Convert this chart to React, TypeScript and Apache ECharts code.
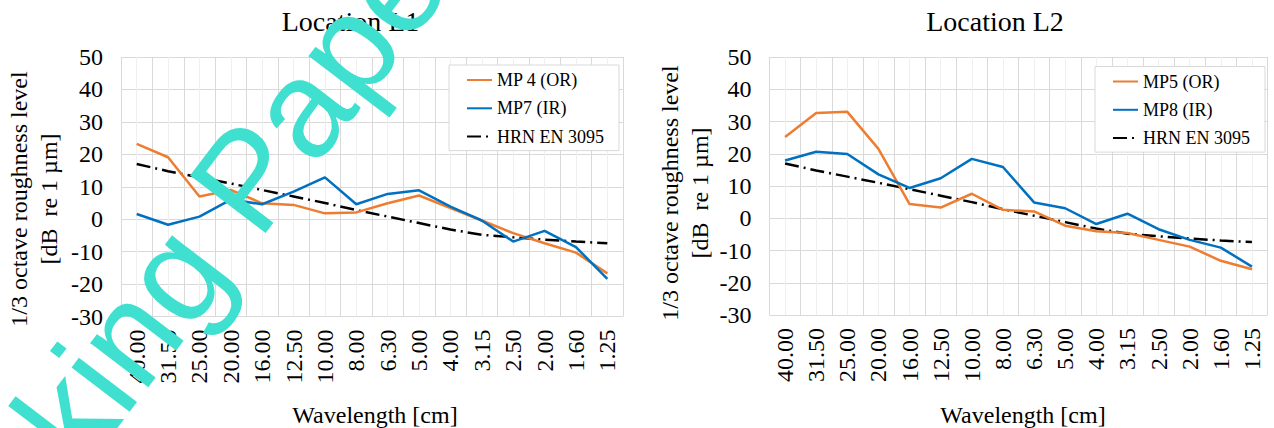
import React, { useEffect, useRef } from "react";
import * as echarts from "echarts";

const wavelengths = ["40.00", "31.50", "25.00", "20.00", "16.00", "12.50", "10.00", "8.00", "6.30", "5.00", "4.00", "3.15", "2.50", "2.00", "1.60", "1.25"];

// Location L1
const mp4OR = [23.2, 19.1, 7.0, 9.0, 4.9, 4.4, 1.8, 2.1, 4.9, 7.3, 3.4, -0.4, -4.3, -7.4, -10.3, -16.7];
const mp7IR = [1.6, -1.7, 0.8, 6.0, 4.6, 8.5, 12.9, 4.6, 7.8, 8.9, 3.9, -0.4, -6.9, -3.6, -8.6, -18.4];

// Location L2
const mp5OR = [25.2, 32.6, 33.0, 21.5, 4.4, 3.3, 7.6, 2.6, 2.1, -2.3, -4.0, -4.6, -6.7, -8.8, -13.2, -15.8];
const mp8IR = [17.9, 20.6, 19.9, 13.6, 9.4, 12.4, 18.4, 15.9, 4.9, 3.1, -1.8, 1.4, -3.4, -6.7, -9.1, -15.0];

// Limit spectrum
const hrnEN3095 = [17.0, 14.8, 12.9, 11.0, 9.0, 7.0, 5.0, 2.8, 0.8, -1.2, -3.2, -4.8, -5.6, -6.3, -6.9, -7.4];

const yMin = -30;
const yMax = 50;
const yStep = 10;

const SERIF = "'Liberation Serif', 'Times New Roman', serif";
const SANS = "'Liberation Sans', Arial, sans-serif";
const ORANGE = "#ED7D31";
const BLUE = "#0070C0";
const GRID = "#d9d9d9";
const MINOR = "#efefef";

function xAxesFor(gridIndex: number) {
  return [
    {
      type: "category",
      gridIndex,
      data: wavelengths,
      boundaryGap: true,
      axisLine: { show: false },
      axisTick: { show: false },
      splitLine: { show: false },
      axisLabel: {
        rotate: 90,
        interval: 0,
        fontSize: 24,
        fontFamily: SERIF,
        color: "#000",
        margin: 13,
      },
    },
    {
      type: "value",
      gridIndex,
      position: "top",
      min: 0,
      max: wavelengths.length,
      interval: 1,
      axisLabel: { show: false },
      axisLine: { show: false },
      axisTick: { show: false },
      splitLine: { show: true, lineStyle: { color: GRID, width: 1 } },
      minorTick: { show: false, splitNumber: 2 },
      minorSplitLine: { show: true, lineStyle: { color: MINOR, width: 1 } },
    },
  ];
}

function yAxisFor(gridIndex: number) {
  return {
    type: "value",
    gridIndex,
    min: yMin,
    max: yMax,
    interval: yStep,
    axisLine: { show: false },
    axisTick: { show: false },
    splitLine: { show: true, lineStyle: { color: GRID, width: 1 } },
    axisLabel: { fontSize: 24, fontFamily: SERIF, color: "#000", margin: 18 },
  };
}

function lineSeries(name: string, data: number[], color: string, xi: number, yi: number, dashed = false) {
  return {
    type: "line",
    name,
    data,
    xAxisIndex: xi,
    yAxisIndex: yi,
    symbol: "none",
    smooth: false,
    z: dashed ? 3 : 4,
    lineStyle: {
      color,
      width: 2.5,
      type: dashed ? [14, 5, 2, 5] : "solid",
    },
    itemStyle: { color },
  };
}

function legendFor(left: number, top: number, names: string[]) {
  return {
    orient: "vertical",
    left,
    top,
    data: names,
    selectedMode: false,
    itemWidth: 25,
    itemHeight: 14,
    itemGap: 8.3,
    padding: [5, 15, 4, 17],
    backgroundColor: "#fff",
    borderColor: GRID,
    borderWidth: 1,
    itemStyle: { opacity: 0 },
    textStyle: { fontFamily: SERIF, fontSize: 18, color: "#000", lineHeight: 20 },
  };
}

const yName = "1/3 octave roughness level\n[dB  re 1 µm]";

export default function App() {
  const ref = useRef<HTMLDivElement>(null);
  useEffect(() => {
    if (!ref.current) return;
    const chart = echarts.init(ref.current, undefined, { renderer: "svg" });
    const option = {
      animation: false,
      backgroundColor: "#fff",
      grid: [
        { left: 121, top: 57, width: 502, height: 259.5 },
        { left: 769.5, top: 57, width: 498, height: 258 },
      ],
      xAxis: [...xAxesFor(0), ...xAxesFor(1)],
      yAxis: [yAxisFor(0), yAxisFor(1)],
      legend: [
        legendFor(449, 65, ["MP 4 (OR)", "MP7 (IR)", "HRN EN 3095"]),
        legendFor(1095, 66.5, ["MP5 (OR)", "MP8 (IR)", "HRN EN 3095"]),
      ],
      series: [
        lineSeries("MP 4 (OR)", mp4OR, ORANGE, 0, 0),
        lineSeries("MP7 (IR)", mp7IR, BLUE, 0, 0),
        lineSeries("HRN EN 3095", hrnEN3095, "#000", 0, 0, true),
        lineSeries("MP5 (OR)", mp5OR, ORANGE, 2, 1),
        lineSeries("MP8 (IR)", mp8IR, BLUE, 2, 1),
        lineSeries("HRN EN 3095", hrnEN3095, "#000", 2, 1, true),
      ],
      graphic: [
        {
          type: "text",
          x: 350.5,
          y: 21,
          style: { text: "Location L1", fontSize: 28, fontFamily: SERIF, fill: "#000", align: "center", verticalAlign: "middle" },
        },
        {
          type: "text",
          x: 995,
          y: 21,
          style: { text: "Location L2", fontSize: 28, fontFamily: SERIF, fill: "#000", align: "center", verticalAlign: "middle" },
        },
        {
          type: "text",
          x: 375,
          y: 415,
          style: { text: "Wavelength [cm]", fontSize: 24, fontFamily: SERIF, fill: "#000", align: "center", verticalAlign: "middle" },
        },
        {
          type: "text",
          x: 1023,
          y: 415,
          style: { text: "Wavelength [cm]", fontSize: 24, fontFamily: SERIF, fill: "#000", align: "center", verticalAlign: "middle" },
        },
        {
          type: "text",
          x: 33.5,
          y: 199,
          rotation: Math.PI / 2,
          style: { text: yName, fontSize: 24, lineHeight: 30, fontFamily: SERIF, fill: "#000", align: "center", verticalAlign: "middle" },
        },
        {
          type: "text",
          x: 684.5,
          y: 193,
          rotation: Math.PI / 2,
          style: { text: yName, fontSize: 24, lineHeight: 30, fontFamily: SERIF, fill: "#000", align: "center", verticalAlign: "middle" },
        },
        {
          type: "text",
          x: 168,
          y: 282,
          z: 100,
          rotation: 0.92,
          style: {
            text: "Working Paper",
            fontSize: 138,
            fontFamily: SANS,
            fill: "#40E0D0",
            align: "center",
            verticalAlign: "middle",
          },
        },
      ],
    };
    chart.setOption(option as any);
    return () => chart.dispose();
  }, []);
  return (
    <div
      ref={ref}
      style={{ position: "fixed", left: 0, top: 0, width: 1274, height: 428 }}
    />
  );
}
